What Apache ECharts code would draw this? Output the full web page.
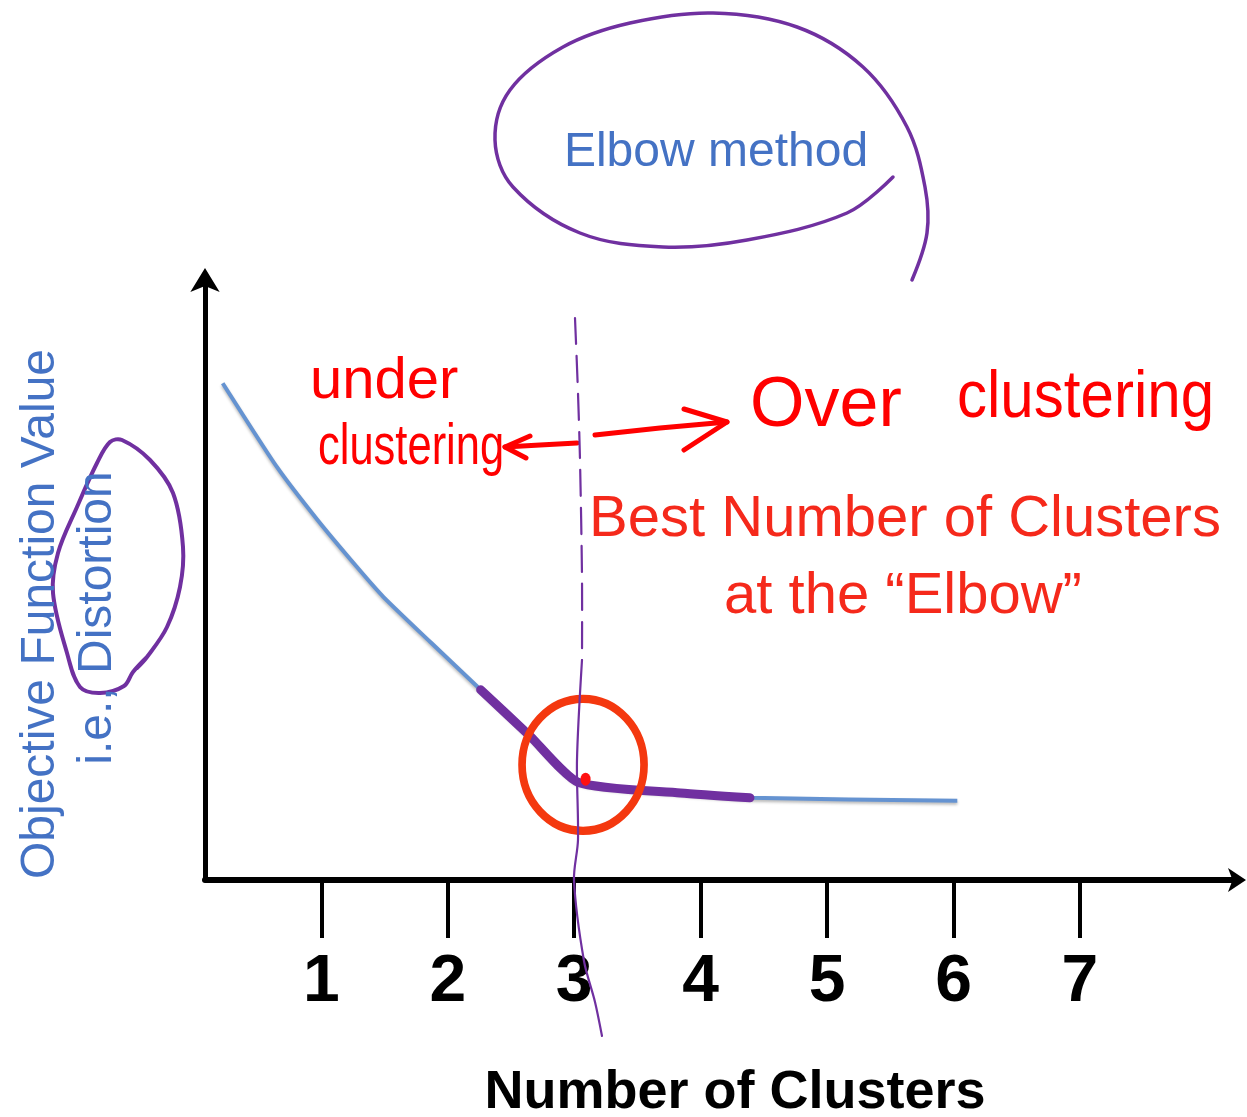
<!DOCTYPE html>
<html>
<head>
<meta charset="utf-8">
<title>Elbow method</title>
<script src="https://cdn.jsdelivr.net/npm/echarts@6/dist/echarts.min.js"></script>
<style>
  html, body { margin: 0; padding: 0; background: #ffffff; }
  #chart { width: 1247px; height: 1117px; }
</style>
</head>
<body>
<div id="chart"></div>
<script>
// Number of clusters (k) sampled along the distortion curve
const clusterCounts = [0.22, 0.65, 0.97, 1.28, 1.49, 1.86, 2.26, 2.65, 3.03, 3.84, 4.39, 6.03];
// Objective function value (distortion) for each sample
const distortion = [8.28, 6.88, 6.00, 5.22, 4.72, 3.97, 3.17, 2.40, 1.63, 1.45, 1.37, 1.32];
// Ticks along the k axis
const tickValues = [1, 2, 3, 4, 5, 6, 7];
// Part of the curve traced over by hand around the elbow (indices into the arrays)
const traceFrom = 6;
const traceTo = 10;
// Best k and the marks drawn around the elbow
const bestK = 3.03;
const elbowRing = [3.07, 1.92];
const elbowDot = [3.09, 1.68];

const BLUE = '#4472C4';
const RED_TEXT = '#F5291B';
const INK_RED = '#FF0000';
const PURPLE = '#7030A0';
const FONT = 'Liberation Sans, Arial, sans-serif';

const chart = echarts.init(document.getElementById('chart'), null, { renderer: 'canvas' });

const curve = clusterCounts.map((k, i) => [k, distortion[i]]);
const traced = curve.slice(traceFrom, traceTo + 1);

chart.setOption({
  animation: false,
  backgroundColor: '#ffffff',
  grid: { left: 205, right: 9, top: 280, bottom: 237, containLabel: false, outerBoundsMode: 'none' },
  xAxis: {
    type: 'value',
    min: 0.08,
    max: 8.25,
    axisLine: {
      show: true,
      onZero: false,
      symbol: ['none', 'arrow'],
      symbolSize: [18, 18],
      symbolOffset: [0, 8],
      lineStyle: { color: '#000000', width: 6 }
    },
    axisTick: {
      show: true,
      customValues: tickValues,
      length: 58,
      lineStyle: { color: '#000000', width: 4 }
    },
    axisLabel: {
      customValues: tickValues,
      margin: 70,
      fontSize: 66,
      fontWeight: 'bold',
      fontFamily: FONT,
      color: '#000000'
    },
    splitLine: { show: false },
    name: 'Number of Clusters',
    nameLocation: 'middle',
    nameGap: 186,
    nameTextStyle: {
      fontSize: 54,
      fontWeight: 'bold',
      fontFamily: FONT,
      color: '#000000',
      padding: [0, 0, 0, 27]
    }
  },
  yAxis: {
    type: 'value',
    min: 0,
    max: 10,
    axisLine: {
      show: true,
      onZero: false,
      symbol: ['none', 'arrow'],
      symbolSize: [22, 24],
      symbolOffset: [0, 12],
      lineStyle: { color: '#000000', width: 5 }
    },
    axisTick: { show: false },
    axisLabel: { show: false },
    splitLine: { show: false }
  },
  series: [
    {
      name: 'Distortion',
      type: 'line',
      data: curve,
      smooth: 0.2,
      showSymbol: false,
      symbol: 'none',
      z: 2,
      lineStyle: {
        color: '#6593D1',
        width: 4,
        shadowColor: 'rgba(0,0,0,0.28)',
        shadowBlur: 3,
        shadowOffsetY: 2
      }
    },
    {
      name: 'Elbow trace',
      type: 'line',
      data: traced,
      smooth: 0.2,
      showSymbol: false,
      symbol: 'none',
      z: 3,
      lineStyle: { color: PURPLE, width: 9, cap: 'round', join: 'round' }
    },
    {
      name: 'Elbow ring',
      type: 'scatter',
      data: [elbowRing],
      symbol: 'circle',
      symbolSize: [122, 132],
      silent: true,
      z: 4,
      itemStyle: { color: 'rgba(0,0,0,0)', borderColor: '#F4380F', borderWidth: 8, opacity: 1 }
    },
    {
      name: 'Elbow point',
      type: 'scatter',
      data: [elbowDot],
      symbol: 'circle',
      symbolSize: [10, 13],
      silent: true,
      z: 5,
      itemStyle: { color: '#FF1010', opacity: 1 }
    }
  ]
});

// Hand-drawn annotations layered over the plot
const kx = chart.convertToPixel({ xAxisIndex: 0 }, bestK);

function text(t, x, y, size, color, opts) {
  opts = opts || {};
  return {
    type: 'text',
    x: x,
    y: y,
    rotation: opts.rotation || 0,
    scaleX: opts.scaleX || 1,
    z: 10,
    silent: true,
    style: {
      text: t,
      fill: color,
      fontSize: size,
      fontFamily: FONT,
      fontWeight: opts.weight || 'normal',
      align: opts.align || 'center',
      verticalAlign: 'middle'
    }
  };
}

function stroke(points, color, width, opts) {
  opts = opts || {};
  return {
    type: 'polyline',
    z: 9,
    silent: true,
    shape: { points: points, smooth: opts.smooth || 0 },
    style: {
      stroke: color,
      lineWidth: width,
      fill: null,
      lineCap: 'round',
      lineJoin: 'round',
      lineDash: opts.dash || null
    }
  };
}

chart.setOption({
  graphic: [
    // axis title
    text('Objective Function Value', 41, 614, 48, BLUE, { rotation: Math.PI / 2 }),
    text('i.e., Distortion', 98, 618, 48, BLUE, { rotation: Math.PI / 2 }),
    // call-out
    text('Elbow method', 716, 153, 48, BLUE),
    text('Best Number of Clusters', 905, 520, 58, RED_TEXT),
    text('at the \u201CElbow\u201D', 903, 597, 58, RED_TEXT),
    // handwritten notes
    text('under', 310, 382, 58, INK_RED, { align: 'left' }),
    text('clustering', 318, 448, 58, INK_RED, { align: 'left', scaleX: 0.75 }),
    text('Over', 750, 407, 70, INK_RED, { align: 'left' }),
    text('clustering', 957, 399, 66, INK_RED, { align: 'left', scaleX: 0.91 }),
    // arrows from the k = 3 guide
    stroke([[kx - 1, 443], [540, 445], [505, 447]], INK_RED, 5),
    stroke([[530, 436], [505, 447], [526, 458]], INK_RED, 5),
    stroke([[kx + 17, 435], [660, 428], [727, 422]], INK_RED, 5),
    stroke([[684, 409], [727, 422], [684, 450]], INK_RED, 5),
    // vertical guide at the best k
    stroke([[kx - 3, 318], [kx, 393], [kx + 2, 460], [kx + 4, 577], [kx + 4, 660]], PURPLE, 2.2, { smooth: 0.3, dash: [26, 12] }),
    stroke([[kx + 4, 660], [kx - 1, 760], [kx, 840], [kx - 4, 880], [kx + 6, 961], [kx + 17, 1002], [kx + 24, 1036]], PURPLE, 2.2, { smooth: 0.3 }),
    // speech bubble around the title
    stroke([[893, 177], [847, 213], [747, 240], [663, 247], [580, 233], [513, 187], [495, 140], [510, 90], [563, 47],
            [630, 23], [713, 13], [797, 27], [863, 67], [907, 127], [925, 187], [927, 233], [912, 280]], PURPLE, 3.5, { smooth: 0.35 }),
    // loop around "Distortion"
    stroke([[147, 657], [133, 672], [124, 686], [100, 693], [80, 687], [67, 653], [53, 593], [58, 553], [77, 507],
            [97, 463], [110, 442], [122, 440], [150, 460], [173, 493], [183, 547], [180, 587], [167, 627], [147, 657], [137, 668]], PURPLE, 4, { smooth: 0.35 })
  ]
});
</script>
</body>
</html>
